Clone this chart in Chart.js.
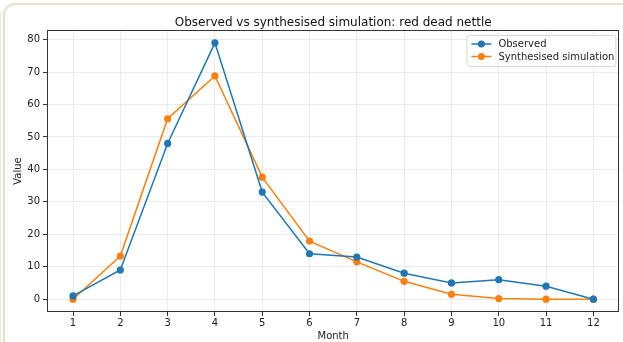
<!DOCTYPE html>
<html>
<head>
<meta charset="utf-8">
<script src="https://cdn.jsdelivr.net/npm/chart.js@4.4.1/dist/chart.umd.min.js"></script>
<style>
  html, body { margin: 0; padding: 0; background: #fff; overflow: hidden; }
  #wrap { position: relative; width: 623px; height: 342px; }
  #frame {
    position: absolute; left: 3px; top: 3px; width: 660px; height: 380px;
    border: 2px solid #e8dfcf; border-radius: 12px; box-sizing: border-box;
  }
  #edge { position: absolute; left: 0; top: 12px; width: 1px; height: 330px; background: #efe7da; }
  canvas { position: absolute; left: 0; top: 0; }
</style>
</head>
<body>
<div id="wrap">
  <div id="frame"></div>
  <div id="edge"></div>
  <canvas id="chart" width="623" height="342"></canvas>
</div>
<script>
  const months = [1, 2, 3, 4, 5, 6, 7, 8, 9, 10, 11, 12];
  const observed = [1, 9, 48, 79, 33, 14, 13, 8, 5, 6, 4, 0];
  const synthesised = [0, 13.3, 55.6, 68.8, 37.6, 17.9, 11.5, 5.5, 1.5, 0.2, 0, 0];
  const yTicks = [0, 10, 20, 30, 40, 50, 60, 70, 80];
  const seriesNames = ['Observed', 'Synthesised simulation'];
  const colors = ['#1f77b4', '#ff7f0e'];

  const FONT = 'DejaVu Sans';
  const toPoints = vals => months.map((m, i) => ({ x: m, y: vals[i] }));

  // box round the plot area, like matplotlib spines
  const frameBox = {
    id: 'frameBox',
    afterDraw(chart) {
      const { ctx, chartArea: a } = chart;
      ctx.save();
      ctx.strokeStyle = '#333';
      ctx.lineWidth = 1;
      ctx.strokeRect(Math.round(a.left) + 0.5, Math.round(a.top) + 0.5,
        Math.round(a.right - a.left) - 1, Math.round(a.bottom - a.top) - 1);
      ctx.restore();
    }
  };

  const legendBox = {
    id: 'legendBox',
    afterDraw(chart) {
      const { ctx, chartArea: a } = chart;
      const w = 149, h = 31;
      const x = a.right - 4 - w, y = a.top + 5;
      ctx.save();
      ctx.fillStyle = 'rgba(255,255,255,0.85)';
      ctx.strokeStyle = '#d6d6d6';
      ctx.lineWidth = 1;
      ctx.beginPath();
      ctx.roundRect(x + 0.5, y + 0.5, w, h, 3);
      ctx.fill();
      ctx.stroke();
      ctx.font = '10px "' + FONT + '"';
      ctx.textBaseline = 'middle';
      chart.data.datasets.forEach((ds, i) => {
        const ry = y + 9 + i * 12.5;
        ctx.strokeStyle = ds.borderColor;
        ctx.lineWidth = 1.5;
        ctx.beginPath();
        ctx.moveTo(x + 5, ry);
        ctx.lineTo(x + 25, ry);
        ctx.stroke();
        ctx.fillStyle = ds.borderColor;
        ctx.beginPath();
        ctx.arc(x + 15, ry, 3.5, 0, Math.PI * 2);
        ctx.fill();
        ctx.fillStyle = '#222';
        ctx.fillText(ds.label, x + 32, ry + 0.5);
      });
      ctx.restore();
    }
  };

  new Chart(document.getElementById('chart'), {
    type: 'line',
    data: {
      datasets: [observed, synthesised].map((vals, i) => ({
        label: seriesNames[i],
        data: toPoints(vals),
        borderColor: colors[i],
        backgroundColor: colors[i],
        borderWidth: 1.5,
        pointRadius: 3.6,
        pointBorderWidth: 0,
        pointHoverRadius: 3.6,
        tension: 0
      }))
    },
    options: {
      responsive: false,
      animation: false,
      events: [],
      layout: { padding: { left: 12, right: 3, top: 0, bottom: 0 } },
      plugins: {
        legend: { display: false },
        tooltip: { enabled: false },
        title: {
          display: true,
          fullSize: false,
          text: 'Observed vs synthesised simulation: red dead nettle',
          color: '#111',
          font: { family: FONT, size: 12, weight: 'normal', lineHeight: 1 },
          padding: { top: 17, bottom: 1 }
        }
      },
      scales: {
        x: {
          type: 'linear',
          min: 0.45,
          max: 12.55,
          afterBuildTicks: s => { s.ticks = months.map(v => ({ value: v })); },
          afterFit: s => { s.height = 30; },
          grid: { color: '#ebebeb', lineWidth: 1, tickColor: '#333', tickLength: 4, drawTicks: true },
          border: { display: false },
          ticks: {
            color: '#222', padding: 2, maxRotation: 0, autoSkip: false,
            font: { family: FONT, size: 10, lineHeight: 1 }
          },
          title: {
            display: true, text: 'Month', color: '#222', padding: 0,
            font: { family: FONT, size: 10, lineHeight: 1.2 }
          }
        },
        y: {
          type: 'linear',
          min: -3.95,
          max: 82.95,
          afterBuildTicks: s => { s.ticks = yTicks.map(v => ({ value: v })); },
          afterFit: s => { s.width = 35; },
          grid: { color: '#ebebeb', lineWidth: 1, tickColor: '#333', tickLength: 4, drawTicks: true },
          border: { display: false },
          ticks: {
            color: '#222', padding: 3,
            font: { family: FONT, size: 10, lineHeight: 1 }
          },
          title: {
            display: true, text: 'Value', color: '#222', padding: 0,
            font: { family: FONT, size: 10, lineHeight: 1.2 }
          }
        }
      }
    },
    plugins: [frameBox, legendBox]
  });
</script>
</body>
</html>
